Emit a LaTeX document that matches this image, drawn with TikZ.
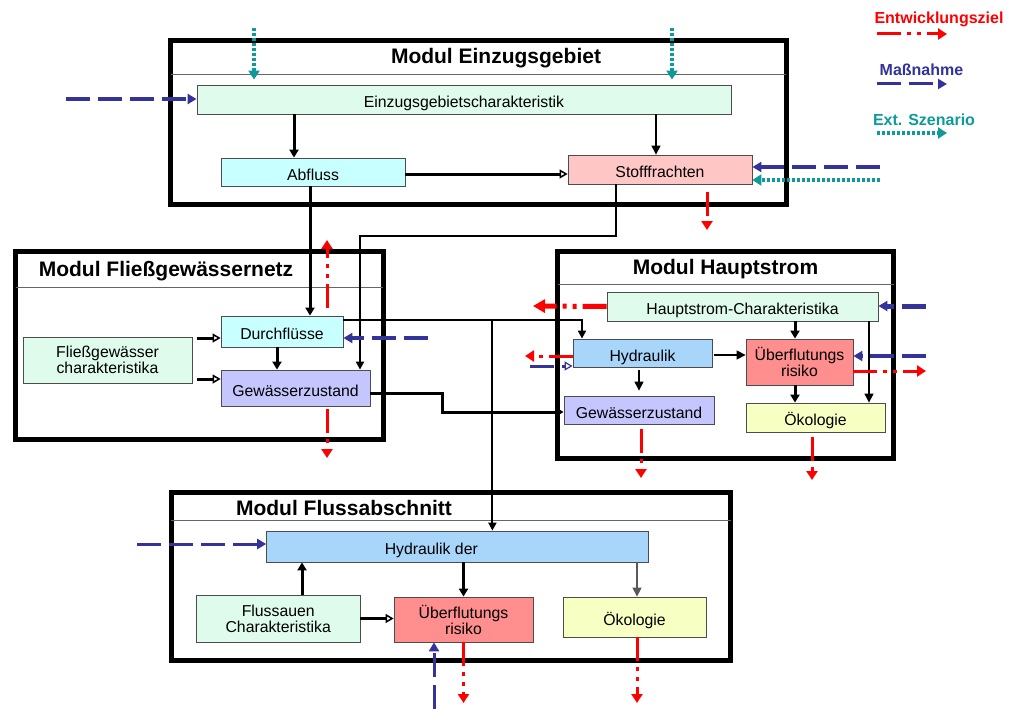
\documentclass[tikz,border=0pt]{standalone}
\usepackage{fontspec}
\setmainfont{Liberation Sans}
\usetikzlibrary{arrows.meta}

\definecolor{mintfill}{HTML}{DEFBEC}
\definecolor{cyanfill}{HTML}{C8FFFF}
\definecolor{pinkfill}{HTML}{FFC6C6}
\definecolor{lavfill}{HTML}{C6C6FF}
\definecolor{skyfill}{HTML}{A8D6FA}
\definecolor{salmonfill}{HTML}{FF8E8E}
\definecolor{yellowfill}{HTML}{F8FFC2}
\definecolor{goalred}{HTML}{FF0000}
\definecolor{measblue}{HTML}{333399}
\definecolor{scenteal}{HTML}{0E9A9A}

\newcommand\boxfont{\fontsize{15.8pt}{16pt}\selectfont}
\newcommand\titlefont{\fontsize{21pt}{23pt}\selectfont\bfseries}
\newcommand\legfont{\fontsize{16pt}{18pt}\selectfont\bfseries}

\begin{document}
\begin{tikzpicture}[x=1pt, y=-1pt,
  module/.style={draw=black, line width=5pt, inner sep=0pt, outer sep=0pt},
  sep/.style={draw=black!60, line width=1pt},
  title/.style={font=\titlefont, inner sep=0pt, anchor=base},
  legend/.style={font=\legfont, inner sep=0pt, anchor=base},
  box/.style={draw=black!70, line width=0.8pt, inner sep=0pt, align=center, font=\boxfont},
  oneline/.style={box, text height=16.5pt, text depth=0pt},
  heavy/.style={draw=black, line width=3pt, -{Triangle[length=8pt,width=9pt]}},
  heavyopen/.style={draw=black, line width=3pt, -{Triangle[open,length=8pt,width=9pt,line width=1.5pt]}},
  mid/.style={draw=black, line width=2pt, -{Triangle[length=8pt,width=8pt]}},
  light/.style={draw=black, line width=1.2pt, -{Triangle[length=9pt,width=9pt]}},
  goal/.style={draw=goalred, line width=3pt, dash pattern=on 24pt off 6pt on 4pt off 6pt on 4pt off 6pt, -{Triangle[length=9pt,width=11pt]}},
  measure/.style={draw=measblue, line width=3.5pt, dash pattern=on 24pt off 8pt, -{Triangle[length=9pt,width=10pt]}},
  scen/.style={draw=scenteal, line width=3.5pt, dash pattern=on 3pt off 2pt, -{Triangle[length=9pt,width=11pt]}}
]
\useasboundingbox[fill=white] (0,0) rectangle (1010,709);

% ---------- module frames ----------
\node[module, minimum width=615.5pt, minimum height=163pt] (mE) at (478.25,122.5) {};
\draw[sep] ([yshift=-34pt]mE.north west) -- ([yshift=-34pt]mE.north east);
\node[title] (tE) at (496,64) {Modul Einzugsgebiet};

\node[module, minimum width=367.5pt, minimum height=188pt] (mF) at (199.25,345.5) {};
\draw[sep] ([yshift=-35.5pt]mF.north west) -- ([yshift=-35.5pt]mF.north east);
\node[title] (tF) at (166,276.5) {Modul Fließgewässernetz};

\node[module, minimum width=336pt, minimum height=207pt] (mH) at (725.5,355) {};
\draw[sep] ([yshift=-32.5pt]mH.north west) -- ([yshift=-32.5pt]mH.north east);
\node[title] (tH) at (725.5,274) {Modul Hauptstrom};

\node[module, minimum width=559.5pt, minimum height=168pt] (mA) at (450.75,576.5) {};
\draw[sep] ([yshift=-27.5pt]mA.north west) -- ([yshift=-27.5pt]mA.north east);
\node[title] (tA) at (344,515) {Modul Flussabschnitt};

% ---------- boxes ----------
\node[oneline, fill=mintfill, minimum width=534pt, minimum height=29pt] (eChar) at (464,99.5) {Einzugsgebietscharakteristik};
\node[oneline, fill=cyanfill, minimum width=184pt, minimum height=28pt] (abfl) at (313,172) {Abfluss};
\node[oneline, fill=pinkfill, minimum width=184pt, minimum height=29pt] (stoff) at (660,169.5) {Stofffrachten};

\node[box, fill=mintfill, minimum width=169pt, minimum height=46pt] (fChar) at (107.5,360) {Fließgewässer\\charakteristika};
\node[oneline, fill=cyanfill, minimum width=122pt, minimum height=31pt] (durch) at (282,331.5) {Durchflüsse};
\node[oneline, fill=lavfill, minimum width=149pt, minimum height=36pt] (gzF) at (295.5,388) {Gewässerzustand};

\node[oneline, fill=mintfill, minimum width=271pt, minimum height=29pt] (hChar) at (742.5,306.5) {Hauptstrom-Charakteristika};
\node[oneline, fill=skyfill, minimum width=139pt, minimum height=28pt] (hydH) at (642.5,353) {Hydraulik};
\node[box, fill=salmonfill, minimum width=107pt, minimum height=46pt] (uebH) at (799.5,362) {Überflutungs\\risiko};
\node[oneline, fill=lavfill, minimum width=150pt, minimum height=28pt] (gzH) at (639,410) {Gewässerzustand};
\node[oneline, fill=yellowfill, minimum width=139pt, minimum height=29pt] (oekH) at (815.5,417.5) {Ökologie};

\node[oneline, fill=skyfill, minimum width=381.4pt, minimum height=31pt] (hydA) at (457.3,546.5) {\hspace*{-52pt}Hydraulik der};
\node[box, fill=mintfill, minimum width=163.5pt, minimum height=47pt] (fauen) at (278.25,618.5) {Flussauen\\Charakteristika};
\node[box, fill=salmonfill, minimum width=139pt, minimum height=45pt] (uebA) at (463.5,619.5) {Überflutungs\\risiko};
\node[oneline, fill=yellowfill, minimum width=143pt, minimum height=40pt] (oekA) at (634.5,617) {Ökologie};

% ---------- model connections ----------
% Einzugsgebiet
\draw[heavy] ([xshift=-19pt]abfl.north |- eChar.south) -- ([xshift=-19pt]abfl.north);
\coordinate (sIn) at ([xshift=-4pt]stoff.north);
\draw[light] (sIn |- eChar.south) -- (sIn);
\coordinate (aOut) at ([yshift=-2pt]abfl.east);
\draw[heavyopen] (aOut) -- (aOut -| stoff.west);

% links between modules
\coordinate (aDown) at ([xshift=-3pt]abfl.south);
\draw[heavy] (aDown) -- (aDown |- durch.north);
\coordinate (turnS) at (360,236);
\draw[mid] ([xshift=-44pt]stoff.south) |- (turnS) -- (turnS |- gzF.north);
\coordinate (dOut) at ([yshift=11.5pt]durch.east);
\coordinate (hIn) at ([xshift=-60.5pt]hydH.north);
\draw[mid] (dOut) -| (hIn);
\coordinate (split) at ([xshift=149pt]dOut);
\draw[mid] (split) -- (split |- hydA.north);
\coordinate (gOut) at ([yshift=-5pt]gzF.east);
\coordinate (gKink) at ([xshift=72pt]gOut);
\draw[heavy] (gOut) -- (gKink) |- ([yshift=-2pt]gzH.west);

% Fließgewässernetz
\coordinate (d1) at ([yshift=-6.5pt]durch.west);
\draw[heavyopen, shorten <=5pt] (d1 -| fChar.east) -- (d1);
\coordinate (d2) at ([yshift=9pt]gzF.west);
\draw[heavyopen, shorten <=5pt] (d2 -| fChar.east) -- (d2);
\coordinate (d3) at ([xshift=-5pt]durch.south);
\draw[heavy] (d3) -- (d3 |- gzF.north);

% Hauptstrom
\coordinate (h1) at ([xshift=-4.5pt]uebH.north);
\draw[heavy] (h1 |- hChar.south) -- (h1);
\coordinate (h2) at ([xshift=53.5pt]oekH.north);
\draw[light] (h2 |- hChar.south) -- (h2);
\coordinate (h3) at ([yshift=-2pt]hydH.east);
\draw[light, shorten <=2pt] (h3) -- (h3 -| uebH.west);
\draw[light, shorten <=3pt, shorten >=5pt] (gzH.north |- hydH.south) -- (gzH.north);
\coordinate (h4) at ([xshift=-20.5pt]oekH.north);
\draw[heavy] (h4 |- uebH.south) -- (h4);

% Flussabschnitt
\coordinate (a1) at ([xshift=23.75pt]fauen.north);
\draw[heavy] (a1) -- (a1 |- hydA.south);
\draw[heavy] (uebA.north |- hydA.south) -- (uebA.north);
\coordinate (a2) at ([xshift=2.5pt]oekA.north);
\draw[light, draw=black!65] (a2 |- hydA.south) -- (a2);
\draw[heavyopen] (fauen.east) -- (fauen.east -| uebA.west);

% ---------- external scenarios ----------
\coordinate (t1) at (254,28);
\draw[scen, shorten >=5pt] (t1) -- (t1 |- eChar.north);
\coordinate (t2) at (672,28);
\draw[scen, shorten >=5pt] (t2) -- (t2 |- eChar.north);
\coordinate (t3) at (880,180);
\draw[scen] (t3) -- (t3 -| stoff.east);

% ---------- measures ----------
\coordinate (b1) at (66,99);
\draw[measure] (b1) -- (b1 -| eChar.west);
\coordinate (b2) at (880,167);
\draw[measure] (b2) -- (b2 -| stoff.east);
\coordinate (b3) at (428,338);
\draw[measure] (b3) -- (b3 -| durch.east);
\coordinate (b4) at (926,306);
\draw[measure, line width=5pt] (b4) -- (b4 -| hChar.east);
\coordinate (b5) at (926,356);
\draw[measure] (b5) -- (b5 -| uebH.east);
\coordinate (b6) at (530,366);
\draw[measure, line width=3pt, -{Triangle[open,length=8pt,width=9pt,line width=1.2pt]}] (b6) -- (b6 -| hydH.west);
\coordinate (b7) at (137,544);
\draw[measure, line width=3pt] (b7) -- (b7 -| hydA.west);
\coordinate (b8) at (434,709);
\draw[measure, line width=3pt] (b8) -- (b8 |- uebA.south);

% ---------- development goals ----------
\coordinate (r1e) at (707,230);
\draw[goal, shorten <=8pt] ([xshift=47pt]stoff.south) -- (r1e);
\coordinate (r2e) at (327,240);
\draw[goal, shorten <=8pt] ([xshift=45pt]durch.north) -- (r2e);
\coordinate (r3e) at (327,458);
\draw[goal, shorten <=3pt] ([xshift=31.5pt]gzF.south) -- (r3e);
\coordinate (r4e) at (533,306);
\draw[goal, line width=5pt, -{Triangle[length=12pt,width=13pt]}] (hChar.west) -- (r4e);
\coordinate (r5e) at (525,356);
\draw[goal] ([yshift=-3pt]hydH.west) -- (r5e);
\coordinate (r6e) at (926,371);
\draw[goal] ([yshift=-9pt]uebH.east) -- (r6e);
\coordinate (r7e) at (641,478);
\draw[goal, shorten <=5pt] ([xshift=2pt]gzH.south) -- (r7e);
\coordinate (r8e) at (812,480);
\draw[goal, shorten <=5pt] ([xshift=-3.5pt]oekH.south) -- (r8e);
\coordinate (r9e) at (463.5,703);
\draw[goal] (uebA.south) -- (r9e);
\coordinate (r10e) at (637,703);
\draw[goal] ([xshift=2.5pt]oekA.south) -- (r10e);

% ---------- legend ----------
\node[legend, text=goalred] (lgGoal) at (939,24) {Entwicklungsziel};
\coordinate (lr1) at (877,34);
\coordinate (lr2) at (947,34);
\draw[goal] (lr1) -- (lr2);
\node[legend, text=measblue] (lgMeas) at (921.5,76) {Maßnahme};
\coordinate (lb1) at (877,84);
\coordinate (lb2) at (947,84);
\draw[measure, line width=3pt] (lb1) -- (lb2);
\node[legend, text=scenteal] (lgScen) at (924,125) {Ext. Szenario};
\coordinate (lt1) at (877,133);
\coordinate (lt2) at (947,133);
\draw[scen] (lt1) -- (lt2);
\end{tikzpicture}
\end{document}
